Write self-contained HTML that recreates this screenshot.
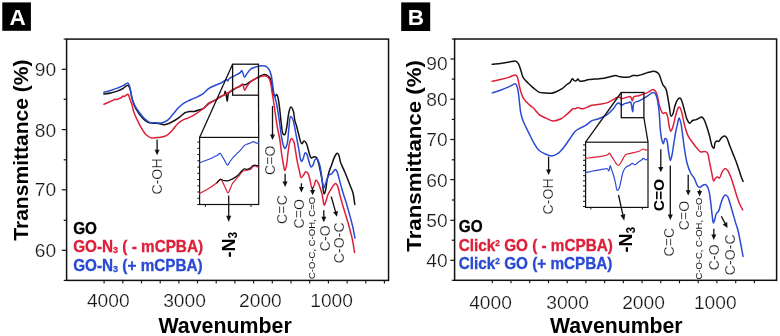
<!DOCTYPE html>
<html><head><meta charset="utf-8"><style>
html,body{margin:0;padding:0;background:#fff;}
svg{display:block;font-family:"Liberation Sans",sans-serif;will-change:transform;}
.lt{stroke:#fff;stroke-width:0.22px;}
.bd{stroke-width:0.3px;}
</style></head><body>
<svg width="780" height="336" viewBox="0 0 780 336">
<rect width="780" height="336" fill="#fff"/>
<rect x="2.3" y="2.4" width="28.6" height="28.4" fill="#000"/>
<text x="17.6" y="25.0" font-size="22.5" font-weight="bold" fill="#fff" text-anchor="middle">A</text>
<rect x="401.2" y="2.4" width="29" height="28.6" fill="#000"/>
<text x="415.8" y="24.9" font-size="22.5" font-weight="bold" fill="#fff" text-anchor="middle">B</text>
<rect x="66.6" y="39.1" width="321.95000000000005" height="241.29999999999998" fill="none" stroke="#111" stroke-width="1.5"/>
<line x1="61.8" y1="69.3" x2="66.6" y2="69.3" stroke="#111" stroke-width="1.2"/>
<line x1="61.8" y1="129.6" x2="66.6" y2="129.6" stroke="#111" stroke-width="1.2"/>
<line x1="61.8" y1="189.8" x2="66.6" y2="189.8" stroke="#111" stroke-width="1.2"/>
<line x1="61.8" y1="250.3" x2="66.6" y2="250.3" stroke="#111" stroke-width="1.2"/>
<line x1="63.699999999999996" y1="39.1" x2="66.6" y2="39.1" stroke="#111" stroke-width="1.2"/>
<line x1="63.699999999999996" y1="99.3" x2="66.6" y2="99.3" stroke="#111" stroke-width="1.2"/>
<line x1="63.699999999999996" y1="159.8" x2="66.6" y2="159.8" stroke="#111" stroke-width="1.2"/>
<line x1="63.699999999999996" y1="220.3" x2="66.6" y2="220.3" stroke="#111" stroke-width="1.2"/>
<line x1="63.699999999999996" y1="280.4" x2="66.6" y2="280.4" stroke="#111" stroke-width="1.2"/>
<line x1="104.1" y1="280.4" x2="104.1" y2="283.4" stroke="#111" stroke-width="1.1"/>
<line x1="122.8" y1="280.4" x2="122.8" y2="283.4" stroke="#111" stroke-width="1.1"/>
<line x1="141.5" y1="280.4" x2="141.5" y2="283.4" stroke="#111" stroke-width="1.1"/>
<line x1="160.2" y1="280.4" x2="160.2" y2="283.4" stroke="#111" stroke-width="1.1"/>
<line x1="178.9" y1="280.4" x2="178.9" y2="283.4" stroke="#111" stroke-width="1.1"/>
<line x1="197.5" y1="280.4" x2="197.5" y2="283.4" stroke="#111" stroke-width="1.1"/>
<line x1="216.2" y1="280.4" x2="216.2" y2="283.4" stroke="#111" stroke-width="1.1"/>
<line x1="234.9" y1="280.4" x2="234.9" y2="283.4" stroke="#111" stroke-width="1.1"/>
<line x1="253.6" y1="280.4" x2="253.6" y2="283.4" stroke="#111" stroke-width="1.1"/>
<line x1="272.3" y1="280.4" x2="272.3" y2="283.4" stroke="#111" stroke-width="1.1"/>
<line x1="291.0" y1="280.4" x2="291.0" y2="283.4" stroke="#111" stroke-width="1.1"/>
<line x1="309.7" y1="280.4" x2="309.7" y2="283.4" stroke="#111" stroke-width="1.1"/>
<line x1="328.4" y1="280.4" x2="328.4" y2="283.4" stroke="#111" stroke-width="1.1"/>
<line x1="347.1" y1="280.4" x2="347.1" y2="283.4" stroke="#111" stroke-width="1.1"/>
<line x1="365.8" y1="280.4" x2="365.8" y2="283.4" stroke="#111" stroke-width="1.1"/>
<line x1="384.4" y1="280.4" x2="384.4" y2="283.4" stroke="#111" stroke-width="1.1"/>
<text x="56.2" y="76.4" font-size="19.2" fill="#161616" class="lt" text-anchor="end">90</text>
<text x="56.2" y="136.9" font-size="19.2" fill="#161616" class="lt" text-anchor="end">80</text>
<text x="56.2" y="196.0" font-size="19.2" fill="#161616" class="lt" text-anchor="end">70</text>
<text x="56.2" y="256.6" font-size="19.2" fill="#161616" class="lt" text-anchor="end">60</text>
<text x="108.3" y="307.2" font-size="19.2" fill="#161616" class="lt" text-anchor="middle">4000</text>
<text x="184.5" y="307.2" font-size="19.2" fill="#161616" class="lt" text-anchor="middle">3000</text>
<text x="260.4" y="307.2" font-size="19.2" fill="#161616" class="lt" text-anchor="middle">2000</text>
<text x="331.6" y="307.2" font-size="19.2" fill="#161616" class="lt" text-anchor="middle">1000</text>
<text transform="translate(158.5,333) scale(1,1.05)" font-size="21" font-weight="bold" fill="#000" textLength="133.3" lengthAdjust="spacingAndGlyphs">Wavenumber</text>
<text transform="translate(28.4,240.7) rotate(-90)" font-size="21" font-weight="bold" fill="#000" textLength="181.2" lengthAdjust="spacingAndGlyphs">Transmittance (%)</text>
<text transform="translate(73.2,233.6) scale(1,1.07)" font-size="15.3" font-weight="bold" fill="#000" stroke="#000" class="bd">GO</text>
<text transform="translate(73.2,252) scale(1,1.07)" font-size="15.3" font-weight="bold" fill="#dd2039" stroke="#dd2039" class="bd">GO-N<tspan font-size="9" dy="1.1">3</tspan><tspan dy="-1.1"> ( - mCPBA)</tspan></text>
<text transform="translate(73.2,271) scale(1,1.07)" font-size="15.3" font-weight="bold" fill="#2b4ad3" stroke="#2b4ad3" class="bd">GO-N<tspan font-size="9" dy="1.1">3</tspan><tspan dy="-1.1"> (+ mCPBA)</tspan></text>
<path d="M103.90,94.10 C106.17,93.70 108.41,93.42 110.70,92.90 C113.08,92.36 115.71,91.71 117.90,90.90 C119.84,90.18 121.55,89.37 123.20,88.40 C124.81,87.46 126.59,85.04 127.70,85.20 C128.51,85.32 128.94,86.34 129.50,87.50 C130.68,89.93 131.35,96.28 132.50,100.00 C133.46,103.11 134.20,105.61 135.70,108.40 C137.41,111.58 140.20,115.45 142.50,117.90 C144.28,119.79 145.99,121.43 147.90,122.30 C149.58,123.06 151.42,123.02 153.20,123.20 C154.99,123.38 156.82,123.14 158.60,123.40 C160.39,123.67 162.13,124.83 163.90,124.80 C165.70,124.77 167.54,123.90 169.30,123.20 C171.11,122.48 172.86,121.53 174.60,120.50 C176.43,119.41 178.22,118.11 180.00,116.80 C181.82,115.45 183.71,113.34 185.40,112.50 C186.62,111.89 187.60,111.79 188.90,111.60 C190.49,111.37 192.53,111.70 194.30,111.40 C196.09,111.10 197.92,110.39 199.60,109.80 C201.17,109.25 202.70,108.95 204.10,108.00 C205.73,106.90 206.81,104.59 208.60,103.30 C210.53,101.91 213.28,101.27 215.40,100.10 C217.40,99.00 219.35,97.47 221.00,96.50 C222.26,95.77 223.72,95.61 224.40,94.70 C225.05,93.82 224.80,91.23 225.10,91.20 C225.35,91.18 225.73,92.49 226.00,93.50 C226.49,95.31 226.87,101.30 227.20,101.30 C227.44,101.30 227.56,98.39 227.80,97.00 C228.03,95.66 227.83,94.28 228.60,93.10 C229.63,91.52 232.41,90.20 234.40,89.00 C236.32,87.84 238.82,86.84 240.30,86.00 C241.23,85.47 241.71,84.80 242.50,84.60 C243.28,84.41 244.09,84.99 245.00,84.80 C246.26,84.53 247.69,83.38 249.20,82.50 C251.03,81.43 253.33,79.88 255.20,78.80 C256.79,77.89 258.19,77.13 259.70,76.40 C261.16,75.70 262.76,74.60 264.10,74.50 C265.18,74.42 266.16,74.78 267.10,75.30 C268.18,75.90 269.34,76.80 270.10,78.10 C271.13,79.84 271.37,82.78 271.90,85.30 C272.48,88.05 272.66,92.02 273.40,94.00 C273.82,95.14 274.34,96.45 274.90,96.50 C275.44,96.55 276.21,94.42 276.70,94.50 C277.22,94.58 277.54,96.00 277.90,97.20 C278.54,99.37 278.90,103.00 279.40,106.70 C280.10,111.88 280.80,120.40 281.50,125.40 C281.97,128.76 281.95,132.42 282.90,133.80 C283.36,134.46 284.10,135.00 284.60,134.80 C285.57,134.41 286.08,130.38 286.70,127.50 C287.56,123.49 287.90,116.63 288.80,112.90 C289.38,110.49 289.98,107.24 290.80,107.10 C291.41,107.00 292.31,108.49 292.90,109.80 C293.99,112.23 294.29,118.54 295.00,121.30 C295.41,122.89 295.80,123.49 296.25,125.00 C296.95,127.32 297.84,131.00 298.60,133.90 C299.32,136.66 299.87,140.34 300.70,142.00 C301.13,142.86 301.62,143.77 302.10,143.75 C302.68,143.73 303.21,141.20 303.90,141.10 C304.55,141.01 305.49,142.03 306.10,142.90 C306.95,144.13 307.34,146.35 307.90,148.20 C308.51,150.20 308.92,152.74 309.60,154.50 C310.13,155.87 310.56,157.71 311.40,158.00 C312.12,158.25 313.20,156.80 314.10,156.80 C315.00,156.80 316.10,157.22 316.80,158.00 C317.78,159.08 318.05,161.41 318.60,163.40 C319.27,165.79 319.83,168.65 320.40,171.40 C321.00,174.31 321.54,177.09 322.10,180.40 C322.78,184.46 323.26,193.90 324.10,194.00 C324.55,194.05 325.17,191.88 325.60,190.30 C326.29,187.74 326.45,183.22 327.10,179.90 C327.70,176.80 328.47,173.65 329.30,171.00 C330.00,168.78 330.87,167.01 331.60,165.00 C332.33,162.98 332.93,160.74 333.70,158.90 C334.38,157.29 335.13,155.46 335.90,154.50 C336.38,153.90 336.93,153.25 337.40,153.30 C337.93,153.36 338.48,154.31 338.90,155.20 C339.61,156.70 339.81,160.02 340.40,161.90 C340.85,163.34 341.30,164.19 341.90,165.60 C342.71,167.51 343.92,169.99 344.90,172.30 C345.93,174.72 346.91,177.31 347.90,179.80 C348.88,182.27 349.91,184.88 350.80,187.20 C351.59,189.25 352.39,190.70 353.00,193.00 C353.83,196.15 354.20,200.67 354.80,204.50" fill="none" stroke="#111" stroke-width="1.5" stroke-linejoin="round" stroke-linecap="round" />
<path d="M103.90,104.30 C105.27,103.70 106.72,103.06 108.00,102.50 C109.13,102.00 110.15,101.59 111.20,101.10 C112.25,100.62 113.65,100.03 114.30,99.60 C114.64,99.38 114.76,99.01 115.00,99.00 C115.25,98.99 115.43,99.54 115.80,99.60 C116.45,99.71 117.76,99.04 118.70,98.70 C119.62,98.37 120.66,98.09 121.40,97.60 C122.05,97.17 122.49,96.07 123.00,96.00 C123.38,95.95 123.71,96.62 124.10,96.60 C124.59,96.57 125.12,95.86 125.70,95.50 C126.34,95.10 127.28,94.25 127.80,94.30 C128.15,94.33 128.37,94.65 128.60,95.00 C128.95,95.53 129.12,96.52 129.40,97.40 C129.74,98.46 130.08,99.73 130.50,100.90 C130.94,102.10 131.55,103.10 132.00,104.50 C132.59,106.33 132.89,108.99 133.50,111.00 C134.05,112.80 134.68,114.31 135.40,116.00 C136.17,117.80 137.11,119.69 138.00,121.50 C138.88,123.29 139.57,124.89 140.70,126.80 C142.13,129.23 144.07,132.87 146.10,134.80 C147.72,136.34 149.55,137.58 151.40,138.00 C153.13,138.40 155.01,137.65 156.80,137.50 C158.57,137.35 160.36,137.52 162.10,137.10 C163.93,136.65 165.80,135.94 167.50,134.80 C169.43,133.51 171.15,131.39 172.90,129.50 C174.72,127.53 176.30,124.90 178.20,123.20 C179.89,121.69 181.75,120.55 183.60,119.60 C185.33,118.71 187.15,118.38 188.90,117.60 C190.72,116.79 192.41,115.92 194.30,114.80 C196.54,113.47 199.23,111.63 201.40,110.00 C203.36,108.52 205.23,106.77 206.80,105.50 C208.00,104.53 208.76,103.82 210.00,103.00 C211.53,101.98 213.60,101.09 215.40,100.00 C217.27,98.86 219.21,97.29 221.00,96.30 C222.52,95.46 224.09,94.99 225.40,94.30 C226.51,93.72 227.23,93.21 228.40,92.50 C230.06,91.49 232.38,89.93 234.40,88.80 C236.35,87.70 238.85,86.75 240.30,85.80 C241.25,85.18 241.87,83.82 242.50,84.00 C243.46,84.27 243.86,90.12 244.70,90.20 C245.39,90.27 246.08,87.61 247.00,86.30 C248.04,84.81 249.30,83.06 250.70,81.80 C252.05,80.58 253.66,79.61 255.20,78.80 C256.66,78.03 258.19,77.50 259.70,77.00 C261.16,76.51 262.77,75.80 264.10,75.80 C265.19,75.80 266.23,76.10 267.10,76.60 C267.97,77.10 268.74,77.86 269.30,78.80 C269.97,79.91 270.21,81.32 270.60,83.00 C271.16,85.42 271.54,89.19 272.00,92.00 C272.41,94.48 272.77,96.27 273.20,99.00 C273.81,102.84 274.52,108.25 275.20,112.90 C275.89,117.58 276.50,122.47 277.30,127.00 C278.05,131.25 279.10,135.03 279.80,139.30 C280.55,143.87 280.95,149.18 281.60,153.60 C282.16,157.43 282.79,161.22 283.40,164.30 C283.86,166.65 284.25,170.47 284.80,170.50 C285.27,170.53 285.95,167.97 286.40,166.10 C287.13,163.03 287.34,157.60 287.90,153.60 C288.42,149.89 288.84,145.67 289.60,142.90 C290.11,141.05 290.66,138.51 291.40,138.40 C292.03,138.30 293.01,139.84 293.60,141.10 C294.56,143.13 294.84,146.89 295.40,150.00 C296.01,153.40 296.42,157.14 297.10,160.70 C297.78,164.28 298.73,168.31 299.50,171.40 C300.10,173.79 300.39,177.51 301.25,177.70 C301.88,177.84 302.87,175.96 303.60,175.00 C304.36,174.00 304.90,171.97 305.70,171.80 C306.36,171.66 307.28,172.39 307.90,173.20 C308.92,174.53 309.32,177.58 310.00,180.00 C310.76,182.73 311.30,188.70 312.20,188.80 C312.87,188.88 313.86,185.81 314.50,184.30 C315.12,182.85 315.33,180.00 316.00,179.90 C316.60,179.81 317.54,181.68 318.20,182.90 C319.06,184.49 319.73,186.81 320.40,188.80 C321.07,190.78 321.68,192.59 322.20,194.80 C322.82,197.46 323.17,201.99 323.70,203.70 C323.93,204.43 324.13,205.21 324.40,205.20 C324.86,205.18 325.55,202.31 326.10,200.70 C326.72,198.88 327.11,196.66 327.90,194.80 C328.68,192.97 329.79,191.25 330.80,189.60 C331.76,188.03 332.85,186.15 333.80,185.10 C334.42,184.41 335.01,183.55 335.60,183.60 C336.25,183.65 336.94,184.73 337.50,185.80 C338.50,187.72 338.97,191.70 339.80,194.80 C340.69,198.15 341.70,201.79 342.70,205.20 C343.67,208.52 344.69,211.62 345.70,215.00 C346.78,218.61 347.92,222.23 349.00,226.20 C350.22,230.66 351.66,235.93 352.60,240.50 C353.45,244.63 353.87,248.43 354.50,252.40" fill="none" stroke="#dd2039" stroke-width="1.5" stroke-linejoin="round" stroke-linecap="round" />
<path d="M103.90,92.30 C106.17,91.70 108.42,91.21 110.70,90.50 C113.08,89.76 115.69,88.76 117.90,87.90 C119.81,87.16 121.54,86.55 123.20,85.70 C124.80,84.88 126.62,82.63 127.70,82.90 C128.59,83.12 128.95,84.56 129.50,86.00 C130.54,88.73 131.06,95.03 132.10,98.60 C132.90,101.34 133.66,103.46 134.80,105.70 C135.93,107.93 137.36,109.93 138.90,112.00 C140.54,114.20 142.46,116.69 144.40,118.50 C146.12,120.11 147.82,121.79 149.80,122.50 C151.70,123.18 153.92,122.75 156.00,122.80 C158.09,122.85 160.33,123.25 162.30,122.80 C164.22,122.36 166.03,121.46 167.70,120.20 C169.61,118.75 171.17,116.31 172.90,114.30 C174.67,112.24 176.35,109.88 178.20,108.00 C179.93,106.24 181.58,104.64 183.60,103.30 C185.72,101.89 188.31,100.92 190.70,99.80 C193.08,98.68 195.71,97.70 197.90,96.60 C199.83,95.63 201.49,94.85 203.20,93.60 C205.07,92.23 206.59,89.99 208.60,88.60 C210.65,87.18 213.22,86.17 215.40,85.20 C217.34,84.34 219.14,83.89 221.00,83.00 C222.98,82.05 225.89,79.33 226.90,79.60 C227.39,79.73 227.39,80.99 227.70,81.00 C228.10,81.01 228.36,79.50 229.10,78.80 C230.23,77.73 232.58,76.81 234.40,75.80 C236.31,74.74 239.05,73.68 240.30,72.60 C241.07,71.94 241.29,70.54 241.80,70.60 C242.66,70.71 243.50,76.88 244.50,77.00 C245.28,77.09 246.07,74.80 247.00,73.60 C248.10,72.19 249.41,70.10 250.70,69.10 C251.67,68.35 252.58,68.14 253.70,67.70 C255.03,67.17 256.69,66.52 258.20,66.20 C259.66,65.90 261.19,65.72 262.60,65.80 C263.92,65.88 265.31,65.96 266.40,66.60 C267.56,67.28 268.52,68.55 269.30,69.90 C270.23,71.51 270.76,73.59 271.30,75.80 C271.96,78.50 272.25,81.95 272.70,85.00 C273.15,88.02 273.39,91.06 274.00,94.00 C274.60,96.89 275.56,99.09 276.30,102.50 C277.39,107.52 278.49,115.26 279.40,121.30 C280.24,126.89 280.80,133.06 281.60,137.50 C282.17,140.65 282.72,143.48 283.40,145.50 C283.84,146.80 284.26,148.58 284.80,148.60 C285.43,148.62 286.40,146.47 287.00,144.60 C288.14,141.03 288.24,133.02 288.90,128.00 C289.45,123.81 289.54,116.80 290.60,116.50 C291.16,116.34 292.11,117.81 292.70,119.00 C293.70,121.00 294.19,125.11 294.80,128.00 C295.36,130.66 295.71,132.82 296.25,135.70 C296.94,139.36 297.85,144.11 298.60,148.20 C299.33,152.14 299.98,157.64 300.70,159.80 C301.00,160.69 301.25,161.60 301.60,161.60 C302.10,161.60 302.84,159.34 303.40,158.00 C304.06,156.42 304.43,152.88 305.20,152.70 C305.72,152.58 306.49,153.63 307.00,154.50 C307.81,155.88 308.08,158.64 308.75,160.70 C309.44,162.81 310.20,166.80 311.10,167.00 C311.66,167.12 312.35,166.04 312.90,165.20 C313.72,163.94 314.05,160.79 315.00,159.80 C315.60,159.18 316.48,158.66 317.10,158.90 C318.10,159.29 318.85,162.23 319.50,164.30 C320.31,166.86 320.74,170.16 321.25,173.20 C321.78,176.36 322.02,180.20 322.60,182.90 C323.03,184.89 323.58,187.99 324.10,188.00 C324.58,188.01 325.10,185.08 325.60,183.60 C326.10,182.11 326.49,180.57 327.10,179.10 C327.72,177.60 328.36,175.53 329.30,174.70 C329.96,174.12 330.91,174.40 331.60,173.90 C332.45,173.29 333.11,171.79 333.80,171.00 C334.33,170.40 334.80,169.50 335.30,169.50 C335.80,169.50 336.32,170.18 336.80,171.00 C337.89,172.85 338.82,177.93 339.80,181.40 C340.78,184.86 341.63,188.23 342.70,191.80 C343.85,195.64 345.35,199.87 346.50,203.70 C347.57,207.25 348.43,210.42 349.40,214.00 C350.46,217.89 351.66,222.15 352.60,226.20 C353.52,230.18 354.20,234.13 355.00,238.10" fill="none" stroke="#2b4ad3" stroke-width="1.5" stroke-linejoin="round" stroke-linecap="round" />
<rect x="232.6" y="64.2" width="25.900000000000006" height="31.0" fill="none" stroke="#111" stroke-width="1.3"/>
<line x1="232.6" y1="64.2" x2="199.6" y2="137.4" stroke="#111" stroke-width="1.3"/>
<line x1="258.5" y1="95.2" x2="258.7" y2="137.3" stroke="#111" stroke-width="1.3"/>
<rect x="199.6" y="137.4" width="59.1" height="67.1" fill="#fff" stroke="#111" stroke-width="1.2"/>
<line x1="197.3" y1="142.1" x2="199.6" y2="142.1" stroke="#111" stroke-width="1.0"/>
<line x1="197.3" y1="148.3" x2="199.6" y2="148.3" stroke="#111" stroke-width="1.0"/>
<line x1="197.3" y1="154.6" x2="199.6" y2="154.6" stroke="#111" stroke-width="1.0"/>
<line x1="197.3" y1="160.8" x2="199.6" y2="160.8" stroke="#111" stroke-width="1.0"/>
<line x1="197.3" y1="167.1" x2="199.6" y2="167.1" stroke="#111" stroke-width="1.0"/>
<line x1="197.3" y1="173.3" x2="199.6" y2="173.3" stroke="#111" stroke-width="1.0"/>
<line x1="197.3" y1="179.5" x2="199.6" y2="179.5" stroke="#111" stroke-width="1.0"/>
<line x1="197.3" y1="185.8" x2="199.6" y2="185.8" stroke="#111" stroke-width="1.0"/>
<line x1="197.3" y1="192.0" x2="199.6" y2="192.0" stroke="#111" stroke-width="1.0"/>
<line x1="197.3" y1="198.3" x2="199.6" y2="198.3" stroke="#111" stroke-width="1.0"/>
<line x1="197.3" y1="204.5" x2="199.6" y2="204.5" stroke="#111" stroke-width="1.0"/>
<line x1="205.3" y1="204.5" x2="205.3" y2="206.9" stroke="#111" stroke-width="1.0"/>
<line x1="251.0" y1="204.5" x2="251.0" y2="206.9" stroke="#111" stroke-width="1.0"/>
<path d="M199.30,193.80 C201.13,192.80 202.90,191.90 204.80,190.80 C206.91,189.58 209.33,188.18 211.40,186.80 C213.35,185.51 215.29,184.17 216.90,182.80 C218.31,181.60 219.58,179.00 220.60,179.10 C221.49,179.19 222.07,181.10 222.80,182.40 C223.76,184.11 224.79,186.72 225.70,188.60 C226.47,190.20 227.14,192.99 227.90,193.00 C228.65,193.01 229.50,190.27 230.20,188.80 C230.93,187.27 231.31,185.51 232.20,184.00 C233.13,182.43 234.49,181.07 235.70,179.60 C236.95,178.07 238.38,176.45 239.60,175.00 C240.69,173.70 241.64,172.00 242.70,171.30 C243.45,170.80 244.17,170.83 245.00,170.60 C245.95,170.33 247.07,170.07 248.10,169.80 C249.13,169.53 250.42,169.56 251.20,169.00 C251.92,168.48 251.98,167.22 252.70,166.70 C253.48,166.14 254.96,165.75 255.80,165.90 C256.45,166.02 256.88,166.92 257.40,167.00 C257.84,167.07 258.27,166.73 258.70,166.60" fill="none" stroke="#dd2039" stroke-width="1.2" stroke-linejoin="round" stroke-linecap="round" />
<path d="M216.90,182.90 C218.13,181.70 219.46,179.50 220.60,179.30 C221.38,179.16 222.09,180.08 222.80,180.30 C223.42,180.49 223.91,180.52 224.60,180.60 C225.53,180.71 226.73,180.99 227.90,180.80 C229.35,180.56 231.07,179.70 232.60,178.90 C234.21,178.05 235.81,177.06 237.30,175.80 C238.93,174.41 240.59,172.04 241.90,170.80 C242.77,169.98 243.31,169.16 244.20,168.90 C245.11,168.64 246.28,169.44 247.30,169.30 C248.35,169.16 249.49,168.60 250.40,168.00 C251.28,167.42 251.87,166.28 252.70,165.80 C253.42,165.38 254.22,165.12 255.00,165.10 C255.79,165.08 256.72,165.51 257.40,165.70 C257.90,165.84 258.27,165.97 258.70,166.10" fill="none" stroke="#111" stroke-width="1.2" stroke-linejoin="round" stroke-linecap="round" />
<path d="M199.30,163.00 C201.13,162.27 202.88,161.56 204.80,160.80 C206.90,159.97 209.31,159.10 211.40,158.20 C213.33,157.36 215.33,156.49 216.90,155.60 C218.17,154.88 219.33,153.23 220.20,153.40 C220.98,153.55 221.36,155.01 222.00,156.00 C222.81,157.26 223.71,158.90 224.60,160.40 C225.54,161.97 226.53,165.17 227.50,165.20 C228.37,165.23 229.17,162.78 230.10,161.50 C231.12,160.09 232.16,158.52 233.40,157.10 C234.71,155.59 236.44,154.06 237.80,152.70 C238.98,151.52 240.03,150.58 241.10,149.40 C242.23,148.16 243.18,146.33 244.40,145.40 C245.42,144.62 246.59,144.34 247.70,143.90 C248.79,143.47 249.97,143.19 251.00,142.80 C251.93,142.45 252.72,141.67 253.60,141.70 C254.55,141.74 255.58,143.06 256.50,143.20 C257.26,143.31 257.97,142.93 258.70,142.80" fill="none" stroke="#2b4ad3" stroke-width="1.2" stroke-linejoin="round" stroke-linecap="round" />
<line x1="157.1" y1="139.5" x2="157.10" y2="150.30" stroke="#111" stroke-width="1.3"/><polygon points="157.10,155.20 154.60,149.80 159.60,149.80" fill="#111"/>
<text transform="translate(162.3,194.6) rotate(-90)" font-size="14.2" font-weight="normal" fill="#161616" class="lt" >C-OH</text>
<line x1="228.7" y1="195.6" x2="228.70" y2="216.30" stroke="#111" stroke-width="1.3"/><polygon points="228.70,222.10 226.20,215.80 231.20,215.80" fill="#111"/>
<text transform="translate(234.6,257.4) rotate(-90)" font-size="18" font-weight="bold" fill="#000">-N<tspan font-size="12" dy="2.8">3</tspan></text>
<line x1="272.5" y1="106.0" x2="272.50" y2="135.10" stroke="#111" stroke-width="1.3"/><polygon points="272.50,140.00 270.00,134.60 275.00,134.60" fill="#111"/>
<text transform="translate(275.3,175.0) rotate(-90)" font-size="14.2" font-weight="normal" fill="#161616" class="lt" >C=O</text>
<line x1="285.1" y1="173.8" x2="285.10" y2="182.10" stroke="#111" stroke-width="1.3"/><polygon points="285.10,187.00 282.60,181.60 287.60,181.60" fill="#111"/>
<text transform="translate(287.4,223.9) rotate(-90)" font-size="14.2" font-weight="normal" fill="#161616" class="lt" >C=C</text>
<line x1="301.4" y1="183.3" x2="301.40" y2="187.50" stroke="#111" stroke-width="1.3"/><polygon points="301.40,192.40 298.90,187.00 303.90,187.00" fill="#111"/>
<text transform="translate(304.3,228.6) rotate(-90)" font-size="14.2" font-weight="normal" fill="#161616" class="lt" >C=O</text>
<line x1="312.6" y1="187.5" x2="312.60" y2="190.40" stroke="#111" stroke-width="1.3"/><polygon points="312.60,195.30 310.10,189.90 315.10,189.90" fill="#111"/>
<text transform="translate(315.0,279.0) rotate(-90)" font-size="9.5" font-weight="normal" fill="#161616" >C-O-C, C-OH, C=O</text>
<line x1="323.8" y1="210.3" x2="323.80" y2="217.30" stroke="#111" stroke-width="1.3"/><polygon points="323.80,222.20 321.30,216.80 326.30,216.80" fill="#111"/>
<text transform="translate(329.5,251.3) rotate(-90)" font-size="14.2" font-weight="normal" fill="#161616" class="lt" >C-O</text>
<line x1="331.2" y1="196.5" x2="335.65" y2="212.09" stroke="#111" stroke-width="1.3"/><polygon points="337.00,216.80 333.11,212.29 337.92,210.92" fill="#111"/>
<text transform="translate(343.8,263.3) rotate(-90)" font-size="14.2" font-weight="normal" fill="#161616" class="lt" >C-O-C</text>
<rect x="454.6" y="39.0" width="322.0" height="241.3" fill="none" stroke="#111" stroke-width="1.5"/>
<line x1="450.40000000000003" y1="59.0" x2="454.6" y2="59.0" stroke="#111" stroke-width="1.2"/>
<line x1="450.40000000000003" y1="99.2" x2="454.6" y2="99.2" stroke="#111" stroke-width="1.2"/>
<line x1="450.40000000000003" y1="139.5" x2="454.6" y2="139.5" stroke="#111" stroke-width="1.2"/>
<line x1="450.40000000000003" y1="179.6" x2="454.6" y2="179.6" stroke="#111" stroke-width="1.2"/>
<line x1="450.40000000000003" y1="220.3" x2="454.6" y2="220.3" stroke="#111" stroke-width="1.2"/>
<line x1="450.40000000000003" y1="260.3" x2="454.6" y2="260.3" stroke="#111" stroke-width="1.2"/>
<line x1="451.8" y1="39.0" x2="454.6" y2="39.0" stroke="#111" stroke-width="1.2"/>
<line x1="451.8" y1="79.1" x2="454.6" y2="79.1" stroke="#111" stroke-width="1.2"/>
<line x1="451.8" y1="119.4" x2="454.6" y2="119.4" stroke="#111" stroke-width="1.2"/>
<line x1="451.8" y1="159.8" x2="454.6" y2="159.8" stroke="#111" stroke-width="1.2"/>
<line x1="451.8" y1="200.0" x2="454.6" y2="200.0" stroke="#111" stroke-width="1.2"/>
<line x1="451.8" y1="240.2" x2="454.6" y2="240.2" stroke="#111" stroke-width="1.2"/>
<line x1="451.8" y1="280.3" x2="454.6" y2="280.3" stroke="#111" stroke-width="1.2"/>
<line x1="492.3" y1="280.3" x2="492.3" y2="283.3" stroke="#111" stroke-width="1.1"/>
<line x1="511.0" y1="280.3" x2="511.0" y2="283.3" stroke="#111" stroke-width="1.1"/>
<line x1="529.7" y1="280.3" x2="529.7" y2="283.3" stroke="#111" stroke-width="1.1"/>
<line x1="548.5" y1="280.3" x2="548.5" y2="283.3" stroke="#111" stroke-width="1.1"/>
<line x1="567.2" y1="280.3" x2="567.2" y2="283.3" stroke="#111" stroke-width="1.1"/>
<line x1="585.9" y1="280.3" x2="585.9" y2="283.3" stroke="#111" stroke-width="1.1"/>
<line x1="604.6" y1="280.3" x2="604.6" y2="283.3" stroke="#111" stroke-width="1.1"/>
<line x1="623.3" y1="280.3" x2="623.3" y2="283.3" stroke="#111" stroke-width="1.1"/>
<line x1="642.1" y1="280.3" x2="642.1" y2="283.3" stroke="#111" stroke-width="1.1"/>
<line x1="660.8" y1="280.3" x2="660.8" y2="283.3" stroke="#111" stroke-width="1.1"/>
<line x1="679.5" y1="280.3" x2="679.5" y2="283.3" stroke="#111" stroke-width="1.1"/>
<line x1="698.2" y1="280.3" x2="698.2" y2="283.3" stroke="#111" stroke-width="1.1"/>
<line x1="716.9" y1="280.3" x2="716.9" y2="283.3" stroke="#111" stroke-width="1.1"/>
<line x1="735.7" y1="280.3" x2="735.7" y2="283.3" stroke="#111" stroke-width="1.1"/>
<line x1="754.4" y1="280.3" x2="754.4" y2="283.3" stroke="#111" stroke-width="1.1"/>
<text x="447.6" y="69.8" font-size="19.2" fill="#161616" class="lt" text-anchor="end">90</text>
<text x="447.6" y="105.8" font-size="19.2" fill="#161616" class="lt" text-anchor="end">80</text>
<text x="447.6" y="146.1" font-size="19.2" fill="#161616" class="lt" text-anchor="end">70</text>
<text x="447.6" y="186.6" font-size="19.2" fill="#161616" class="lt" text-anchor="end">60</text>
<text x="447.6" y="227.0" font-size="19.2" fill="#161616" class="lt" text-anchor="end">50</text>
<text x="447.6" y="266.5" font-size="19.2" fill="#161616" class="lt" text-anchor="end">40</text>
<text x="490.5" y="308.5" font-size="19.2" fill="#161616" class="lt" text-anchor="middle">4000</text>
<text x="567.6" y="308.5" font-size="19.2" fill="#161616" class="lt" text-anchor="middle">3000</text>
<text x="643.5" y="308.5" font-size="19.2" fill="#161616" class="lt" text-anchor="middle">2000</text>
<text x="715.3" y="308.5" font-size="19.2" fill="#161616" class="lt" text-anchor="middle">1000</text>
<text transform="translate(550.0,333) scale(1,1.05)" font-size="21" font-weight="bold" fill="#000" textLength="132.6" lengthAdjust="spacingAndGlyphs">Wavenumber</text>
<text transform="translate(421.4,251.7) rotate(-90)" font-size="21" font-weight="bold" fill="#000" textLength="191.6" lengthAdjust="spacingAndGlyphs">Transmittance (%)</text>
<text transform="translate(458.8,231.6) scale(1,1.07)" font-size="15.3" font-weight="bold" fill="#000" stroke="#000" class="bd">GO</text>
<text transform="translate(458.8,251) scale(1,1.07)" font-size="15.3" font-weight="bold" fill="#dd2039" stroke="#dd2039" class="bd">Click<tspan font-size="8.2" dy="-4.5">2</tspan><tspan dy="4.5"> GO ( - mCPBA)</tspan></text>
<text transform="translate(458.8,269) scale(1,1.07)" font-size="15.3" font-weight="bold" fill="#2b4ad3" stroke="#2b4ad3" class="bd">Click<tspan font-size="8.2" dy="-4.5">2</tspan><tspan dy="4.5"> GO (+ mCPBA)</tspan></text>
<path d="M492.30,64.30 C495.00,64.00 497.64,63.75 500.40,63.40 C503.30,63.03 506.60,62.51 509.30,62.10 C511.55,61.75 513.93,60.66 515.50,61.10 C516.68,61.43 517.42,62.29 518.20,63.40 C519.35,65.03 520.07,68.11 520.90,70.50 C521.73,72.88 522.13,75.79 523.20,77.70 C524.05,79.21 525.19,80.14 526.30,81.30 C527.45,82.51 528.77,83.66 530.00,84.80 C531.20,85.92 532.22,86.97 533.60,88.10 C535.29,89.48 537.53,91.64 539.50,92.40 C541.10,93.01 542.54,92.76 544.30,92.90 C546.43,93.07 549.29,93.58 551.40,93.30 C553.18,93.06 554.55,92.40 556.20,91.70 C558.10,90.89 560.30,89.82 562.10,88.60 C563.85,87.41 565.42,85.64 566.90,84.50 C568.08,83.59 569.28,83.15 570.20,82.20 C571.12,81.25 571.65,78.88 572.40,78.80 C572.99,78.74 573.54,80.26 574.20,80.60 C574.76,80.89 575.42,81.07 576.00,80.90 C576.70,80.70 577.39,79.05 578.00,79.10 C578.59,79.15 578.83,80.75 579.60,81.10 C580.56,81.53 582.18,81.11 583.60,80.90 C585.25,80.66 587.06,79.90 588.90,79.60 C590.85,79.28 592.77,79.30 595.00,79.10 C597.71,78.85 601.18,78.67 604.00,78.20 C606.55,77.77 609.09,76.99 611.20,76.50 C612.85,76.12 614.13,75.46 615.60,75.50 C617.10,75.54 618.32,76.52 620.10,76.80 C622.57,77.19 626.81,77.52 629.10,77.10 C630.61,76.82 631.35,75.87 632.70,75.60 C634.29,75.28 636.25,75.87 638.10,75.60 C640.14,75.30 642.48,74.29 644.40,73.70 C646.03,73.20 647.36,72.70 648.90,72.30 C650.49,71.89 652.27,71.18 653.80,71.30 C655.22,71.41 656.81,72.02 657.80,72.80 C658.66,73.48 659.06,74.40 659.60,75.50 C660.31,76.95 660.77,79.20 661.40,80.90 C661.98,82.45 662.49,84.16 663.20,85.30 C663.74,86.15 664.49,86.54 665.00,87.30 C665.54,88.10 665.93,88.91 666.30,90.00 C666.82,91.52 667.08,93.50 667.50,95.70 C668.07,98.70 668.69,102.91 669.30,106.40 C669.89,109.74 670.16,115.96 671.10,116.20 C671.60,116.33 672.39,115.01 672.90,114.00 C673.70,112.40 673.98,109.24 674.60,107.10 C675.15,105.20 675.70,103.25 676.40,101.80 C676.94,100.68 677.51,99.67 678.20,99.00 C678.75,98.47 679.46,97.76 680.00,97.90 C680.70,98.08 681.22,99.64 681.80,101.00 C682.76,103.26 683.61,107.37 684.50,110.50 C685.37,113.57 685.97,117.33 687.10,119.60 C687.88,121.16 688.86,123.13 689.80,123.20 C690.67,123.26 691.44,121.10 692.50,120.50 C693.54,119.91 694.93,120.03 696.10,119.60 C697.30,119.16 698.56,118.36 699.60,117.90 C700.41,117.54 701.11,116.84 701.80,117.00 C702.63,117.19 703.40,118.43 704.10,119.60 C705.14,121.34 705.94,124.26 706.80,126.80 C707.75,129.60 708.62,132.57 709.50,135.70 C710.46,139.14 711.19,144.65 712.30,146.60 C712.80,147.47 713.47,148.33 713.90,148.20 C714.61,147.99 714.41,143.45 715.20,142.30 C715.67,141.61 716.37,141.23 717.00,141.10 C717.58,140.98 718.22,141.64 718.80,141.40 C719.70,141.04 720.38,138.80 721.40,137.90 C722.34,137.07 723.66,136.02 724.60,136.10 C725.43,136.17 726.14,136.98 726.80,137.90 C727.89,139.41 728.53,142.50 729.50,145.00 C730.58,147.80 731.82,150.93 733.00,153.90 C734.19,156.89 735.49,159.89 736.60,162.90 C737.69,165.86 738.80,169.33 739.60,171.80 C740.17,173.55 740.45,174.76 741.00,176.30 C741.60,177.98 742.40,179.77 743.10,181.50" fill="none" stroke="#111" stroke-width="1.5" stroke-linejoin="round" stroke-linecap="round" />
<path d="M492.30,81.30 C495.00,80.70 497.64,80.18 500.40,79.50 C503.30,78.79 506.61,77.92 509.30,77.10 C511.56,76.41 514.11,74.68 515.50,75.00 C516.36,75.20 516.80,75.88 517.30,76.80 C518.21,78.45 518.48,82.21 519.10,84.80 C519.69,87.27 520.18,89.74 520.90,92.00 C521.56,94.09 522.22,96.20 523.20,97.90 C524.07,99.41 525.18,100.56 526.30,101.80 C527.44,103.06 528.75,104.29 530.00,105.40 C531.18,106.45 532.30,107.08 533.60,108.30 C535.39,109.98 537.37,113.16 539.50,114.80 C541.37,116.24 543.37,116.91 545.50,117.90 C547.82,118.98 550.35,120.83 552.90,121.00 C555.51,121.17 558.72,119.90 561.00,118.80 C562.94,117.86 564.20,116.60 565.90,115.20 C567.91,113.54 571.06,110.55 572.20,109.40 C572.65,108.94 572.70,108.52 573.10,108.40 C573.57,108.26 574.23,108.95 574.90,108.90 C575.80,108.83 577.04,107.51 578.00,107.50 C578.82,107.49 579.43,108.32 580.30,108.50 C581.35,108.72 582.66,108.74 583.90,108.50 C585.32,108.22 586.90,107.26 588.30,106.70 C589.56,106.20 590.46,105.67 591.90,105.30 C593.90,104.78 596.83,104.70 599.30,104.30 C601.80,103.90 604.50,103.68 606.80,102.90 C608.94,102.17 610.96,100.86 612.70,99.90 C614.12,99.11 615.38,98.11 616.50,97.60 C617.31,97.23 617.92,96.84 618.70,96.90 C619.64,96.97 620.58,98.24 621.70,98.40 C622.98,98.58 624.64,97.92 626.00,97.60 C627.26,97.31 628.70,96.46 629.60,96.60 C630.20,96.69 630.60,97.02 631.00,97.50 C631.57,98.19 631.88,100.71 632.30,100.70 C632.75,100.69 632.71,97.93 633.60,97.10 C634.64,96.13 636.92,96.22 638.60,95.70 C640.35,95.16 642.21,94.52 643.90,93.90 C645.47,93.32 646.93,92.82 648.40,92.10 C649.93,91.36 651.62,89.46 652.90,89.50 C653.90,89.53 654.80,90.39 655.50,91.25 C656.36,92.31 656.76,93.96 657.30,95.70 C658.01,98.01 658.52,101.60 659.10,104.00 C659.55,105.85 659.76,107.34 660.40,108.90 C661.05,110.48 661.93,113.00 663.00,113.40 C663.79,113.70 664.98,112.20 665.70,112.50 C666.56,112.85 666.99,114.53 667.50,116.10 C668.34,118.67 668.63,124.01 669.30,126.80 C669.74,128.64 670.11,131.25 670.70,131.30 C671.31,131.35 672.23,128.66 672.90,126.80 C673.90,124.04 674.55,119.40 675.50,116.10 C676.34,113.19 677.19,109.30 678.20,108.00 C678.65,107.43 679.16,106.96 679.60,107.10 C680.42,107.36 681.12,110.29 681.80,112.50 C682.81,115.77 683.42,121.02 684.50,125.00 C685.51,128.73 686.51,132.62 688.00,135.70 C689.27,138.32 690.95,140.36 692.50,142.50 C693.96,144.52 695.55,146.55 697.00,148.20 C698.20,149.57 699.16,151.29 700.50,151.80 C701.70,152.25 703.33,151.33 704.50,151.50 C705.48,151.64 706.37,151.67 707.10,152.50 C708.57,154.16 709.00,159.94 709.80,163.50 C710.55,166.83 711.11,170.15 711.80,173.20 C712.42,175.95 712.88,180.86 713.70,181.00 C714.25,181.09 714.85,178.65 715.60,178.00 C716.19,177.49 716.94,177.09 717.60,177.10 C718.24,177.11 718.91,178.22 719.50,178.00 C720.61,177.58 721.25,172.99 722.40,171.30 C723.26,170.03 724.33,168.40 725.30,168.40 C726.27,168.40 727.34,170.03 728.20,171.30 C729.35,172.99 730.18,175.59 731.10,178.00 C732.13,180.71 733.05,183.80 734.00,186.80 C734.99,189.92 735.88,193.38 736.90,196.40 C737.83,199.15 738.77,201.82 739.80,204.20 C740.71,206.30 741.73,208.07 742.70,210.00" fill="none" stroke="#dd2039" stroke-width="1.5" stroke-linejoin="round" stroke-linecap="round" />
<path d="M492.30,92.90 C495.00,92.00 497.65,91.21 500.40,90.20 C503.31,89.13 506.61,87.73 509.30,86.60 C511.56,85.65 514.16,83.41 515.50,83.90 C516.53,84.28 516.82,86.06 517.30,87.50 C517.95,89.43 518.23,92.09 518.60,94.60 C519.01,97.42 519.26,100.66 519.60,103.60 C519.93,106.42 520.11,109.26 520.60,111.90 C521.06,114.37 521.72,116.88 522.40,119.00 C522.97,120.78 523.48,121.95 524.30,123.80 C525.48,126.45 527.42,130.13 529.00,133.30 C530.59,136.49 532.10,139.99 533.80,142.90 C535.32,145.50 536.69,148.18 538.60,150.00 C540.32,151.64 542.38,152.61 544.50,153.60 C546.73,154.63 549.43,156.07 551.70,156.00 C553.78,155.93 555.74,154.83 557.60,153.60 C559.74,152.18 561.70,149.85 563.60,147.60 C565.68,145.13 567.52,142.06 569.50,139.30 C571.49,136.53 573.45,132.91 575.50,131.00 C576.97,129.62 578.37,129.11 580.00,128.20 C581.83,127.17 584.06,126.41 586.00,125.20 C588.04,123.93 589.71,121.81 591.90,120.70 C594.13,119.56 596.87,119.45 599.30,118.50 C601.83,117.51 604.54,116.31 606.80,114.80 C608.99,113.33 611.03,111.44 612.70,109.60 C614.22,107.92 615.30,105.44 616.50,104.30 C617.26,103.58 617.92,102.87 618.70,102.90 C619.63,102.93 620.68,105.02 621.70,105.10 C622.65,105.17 623.54,104.01 624.60,103.60 C625.78,103.15 627.42,102.90 628.50,102.60 C629.28,102.38 630.02,101.76 630.50,102.00 C631.05,102.28 631.11,103.50 631.40,104.60 C631.87,106.39 632.27,111.80 632.70,111.80 C633.17,111.79 632.72,104.63 634.10,102.90 C635.11,101.63 637.06,101.80 638.60,101.10 C640.31,100.32 642.23,99.38 643.90,98.40 C645.49,97.47 646.90,96.39 648.40,95.40 C649.90,94.42 651.59,92.55 652.90,92.50 C653.87,92.46 654.82,93.09 655.50,93.90 C656.45,95.03 656.78,97.10 657.30,99.30 C658.08,102.58 658.61,107.21 659.10,111.80 C659.70,117.38 659.79,125.08 660.40,130.40 C660.86,134.44 661.37,138.66 662.10,141.00 C662.49,142.23 662.98,143.73 663.40,143.70 C663.96,143.66 664.23,138.79 665.00,138.50 C665.45,138.33 666.15,138.82 666.60,139.50 C667.69,141.14 667.77,146.92 668.40,150.50 C669.00,153.92 669.60,160.46 670.30,160.50 C670.83,160.53 671.49,157.19 672.00,155.00 C672.72,151.91 673.21,147.33 673.80,143.60 C674.37,140.00 674.87,136.28 675.50,133.00 C676.05,130.14 676.68,127.58 677.30,125.00 C677.88,122.56 678.45,117.93 679.10,117.90 C679.66,117.88 680.38,121.03 680.90,123.20 C681.68,126.46 682.11,131.47 682.70,135.70 C683.31,140.06 683.78,144.50 684.50,149.00 C685.24,153.66 685.94,158.95 687.10,163.20 C688.09,166.82 689.32,170.28 690.70,173.00 C691.79,175.14 693.18,176.36 694.30,178.40 C695.61,180.78 696.57,185.29 697.90,186.50 C698.57,187.11 699.26,187.30 700.00,187.20 C700.94,187.07 702.05,185.66 703.00,185.20 C703.76,184.83 704.51,184.33 705.20,184.50 C706.00,184.69 706.79,185.72 707.40,186.70 C708.21,188.00 708.70,189.84 709.20,191.90 C709.89,194.75 710.23,198.61 710.70,202.30 C711.24,206.48 711.68,211.90 712.20,215.70 C712.59,218.54 712.87,223.06 713.40,223.10 C713.82,223.14 714.42,220.23 714.90,218.70 C715.42,217.04 715.64,214.82 716.40,213.50 C716.98,212.49 717.97,212.29 718.60,211.20 C719.58,209.51 720.03,206.13 720.80,203.80 C721.50,201.68 722.11,199.39 723.00,197.80 C723.68,196.59 724.48,195.02 725.30,194.90 C726.00,194.79 726.87,195.59 727.50,196.40 C728.47,197.64 728.95,200.04 729.70,202.30 C730.68,205.26 731.70,209.23 732.70,212.70 C733.70,216.17 734.76,219.99 735.70,223.10 C736.47,225.64 737.23,227.47 737.90,230.00 C738.69,233.01 739.26,236.26 740.00,240.00 C740.94,244.77 742.00,250.87 743.00,256.30" fill="none" stroke="#2b4ad3" stroke-width="1.5" stroke-linejoin="round" stroke-linecap="round" />
<rect x="621.25" y="92.5" width="22.649999999999977" height="25.200000000000003" fill="none" stroke="#111" stroke-width="1.3"/>
<line x1="621.25" y1="92.5" x2="585.6" y2="142.2" stroke="#111" stroke-width="1.3"/>
<line x1="643.9" y1="117.7" x2="648" y2="142" stroke="#111" stroke-width="1.3"/>
<rect x="585.6" y="142.2" width="62.4" height="65.2" fill="#fff" stroke="#111" stroke-width="1.2"/>
<line x1="583.0" y1="144.9" x2="585.6" y2="144.9" stroke="#111" stroke-width="1.0"/>
<line x1="583.0" y1="150.0" x2="585.6" y2="150.0" stroke="#111" stroke-width="1.0"/>
<line x1="583.0" y1="155.2" x2="585.6" y2="155.2" stroke="#111" stroke-width="1.0"/>
<line x1="583.0" y1="160.3" x2="585.6" y2="160.3" stroke="#111" stroke-width="1.0"/>
<line x1="583.0" y1="165.4" x2="585.6" y2="165.4" stroke="#111" stroke-width="1.0"/>
<line x1="583.0" y1="170.6" x2="585.6" y2="170.6" stroke="#111" stroke-width="1.0"/>
<line x1="583.0" y1="175.7" x2="585.6" y2="175.7" stroke="#111" stroke-width="1.0"/>
<line x1="583.0" y1="180.8" x2="585.6" y2="180.8" stroke="#111" stroke-width="1.0"/>
<line x1="583.0" y1="185.9" x2="585.6" y2="185.9" stroke="#111" stroke-width="1.0"/>
<line x1="583.0" y1="191.1" x2="585.6" y2="191.1" stroke="#111" stroke-width="1.0"/>
<line x1="583.0" y1="196.2" x2="585.6" y2="196.2" stroke="#111" stroke-width="1.0"/>
<line x1="583.0" y1="201.3" x2="585.6" y2="201.3" stroke="#111" stroke-width="1.0"/>
<line x1="583.0" y1="206.5" x2="585.6" y2="206.5" stroke="#111" stroke-width="1.0"/>
<line x1="590.9" y1="207.4" x2="590.9" y2="209.4" stroke="#111" stroke-width="1.0"/>
<line x1="642.4" y1="207.4" x2="642.4" y2="209.4" stroke="#111" stroke-width="1.0"/>
<path d="M585.30,158.30 C587.87,158.00 590.53,157.68 593.00,157.40 C595.28,157.15 597.51,157.02 599.60,156.70 C601.52,156.41 603.57,156.04 605.10,155.60 C606.24,155.27 607.23,155.00 608.00,154.50 C608.64,154.09 609.03,152.94 609.50,153.00 C610.07,153.07 610.49,154.62 611.10,155.60 C611.90,156.88 612.95,158.54 613.90,160.00 C614.85,161.47 615.91,163.47 616.80,164.40 C617.33,164.95 617.77,165.54 618.30,165.50 C618.98,165.45 619.79,164.27 620.50,163.30 C621.51,161.93 622.39,159.36 623.40,157.80 C624.23,156.52 624.87,155.23 626.00,154.50 C627.18,153.74 628.93,153.77 630.40,153.40 C631.87,153.03 633.33,152.67 634.80,152.30 C636.27,151.93 637.80,151.75 639.20,151.20 C640.60,150.65 642.00,149.06 643.20,149.00 C644.15,148.95 644.96,150.06 645.80,150.10 C646.56,150.13 647.27,149.63 648.00,149.40" fill="none" stroke="#dd2039" stroke-width="1.2" stroke-linejoin="round" stroke-linecap="round" />
<path d="M585.30,172.80 C587.87,172.20 590.52,171.50 593.00,171.00 C595.28,170.54 597.50,170.28 599.60,169.90 C601.52,169.55 603.67,168.94 605.10,168.80 C605.99,168.71 606.69,168.49 607.30,168.80 C607.98,169.15 608.46,171.09 608.90,171.00 C609.53,170.87 609.70,165.52 610.20,165.50 C610.65,165.48 611.16,168.28 611.70,169.90 C612.37,171.88 613.25,174.20 613.90,176.50 C614.59,178.95 615.12,181.77 615.70,184.20 C616.22,186.38 616.42,190.18 617.20,190.40 C617.69,190.54 618.47,189.53 619.00,188.60 C619.99,186.84 620.47,182.73 621.20,179.80 C621.93,176.87 622.39,173.28 623.40,171.00 C624.12,169.36 624.93,168.03 626.00,167.10 C626.94,166.28 628.22,166.12 629.30,165.50 C630.42,164.86 631.62,163.28 632.60,163.30 C633.41,163.32 634.00,164.92 634.80,164.90 C635.80,164.87 636.98,163.03 638.10,162.20 C639.18,161.40 640.42,160.70 641.40,160.00 C642.22,159.41 642.87,158.30 643.60,158.30 C644.33,158.30 645.04,159.93 645.80,160.00 C646.51,160.07 647.27,159.27 648.00,158.90" fill="none" stroke="#2b4ad3" stroke-width="1.2" stroke-linejoin="round" stroke-linecap="round" />
<line x1="548.6" y1="156.7" x2="548.60" y2="170.10" stroke="#111" stroke-width="1.3"/><polygon points="548.60,175.00 546.10,169.60 551.10,169.60" fill="#111"/>
<text transform="translate(553.0,214.4) rotate(-90)" font-size="14.2" font-weight="normal" fill="#161616" class="lt" >C-OH</text>
<line x1="618.5" y1="195.0" x2="622.95" y2="215.14" stroke="#111" stroke-width="1.3"/><polygon points="624.20,220.80 620.40,215.19 625.28,214.11" fill="#111"/>
<text transform="translate(632.3,252.4) rotate(-90)" font-size="18" font-weight="bold" fill="#000">-N<tspan font-size="12" dy="2.8">3</tspan></text>
<line x1="660.8" y1="149.2" x2="660.80" y2="167.40" stroke="#111" stroke-width="1.3"/><polygon points="660.80,172.30 658.30,166.90 663.30,166.90" fill="#111"/>
<text transform="translate(663.8,211.3) rotate(-90)" font-size="15.5" font-weight="bold" fill="#000" >C=O</text>
<line x1="670.3" y1="165.6" x2="670.30" y2="215.10" stroke="#111" stroke-width="1.3"/><polygon points="670.30,220.00 667.80,214.60 672.80,214.60" fill="#111"/>
<text transform="translate(674.3,256.5) rotate(-90)" font-size="14.2" font-weight="normal" fill="#161616" class="lt" >C=C</text>
<line x1="688.2" y1="174.8" x2="688.20" y2="190.70" stroke="#111" stroke-width="1.3"/><polygon points="688.20,195.60 685.70,190.20 690.70,190.20" fill="#111"/>
<text transform="translate(689.0,230.3) rotate(-90)" font-size="14.2" font-weight="normal" fill="#161616" class="lt" >C=O</text>
<line x1="699.6" y1="189.5" x2="699.60" y2="191.50" stroke="#111" stroke-width="1.3"/><polygon points="699.60,196.40 697.10,191.00 702.10,191.00" fill="#111"/>
<text transform="translate(702.2,279.6) rotate(-90)" font-size="9.5" font-weight="normal" fill="#161616" >C-O-C, C-OH, C=O</text>
<line x1="713.8" y1="228.8" x2="713.80" y2="235.10" stroke="#111" stroke-width="1.3"/><polygon points="713.80,240.00 711.30,234.60 716.30,234.60" fill="#111"/>
<text transform="translate(718.6,270.3) rotate(-90)" font-size="14.2" font-weight="normal" fill="#161616" class="lt" >C-O</text>
<line x1="721.3" y1="216.3" x2="725.21" y2="223.67" stroke="#111" stroke-width="1.3"/><polygon points="727.50,228.00 722.76,224.40 727.18,222.06" fill="#111"/>
<text transform="translate(734.8,275.3) rotate(-90)" font-size="14.2" font-weight="normal" fill="#161616" class="lt" >C-O-C</text>
</svg>
</body></html>
